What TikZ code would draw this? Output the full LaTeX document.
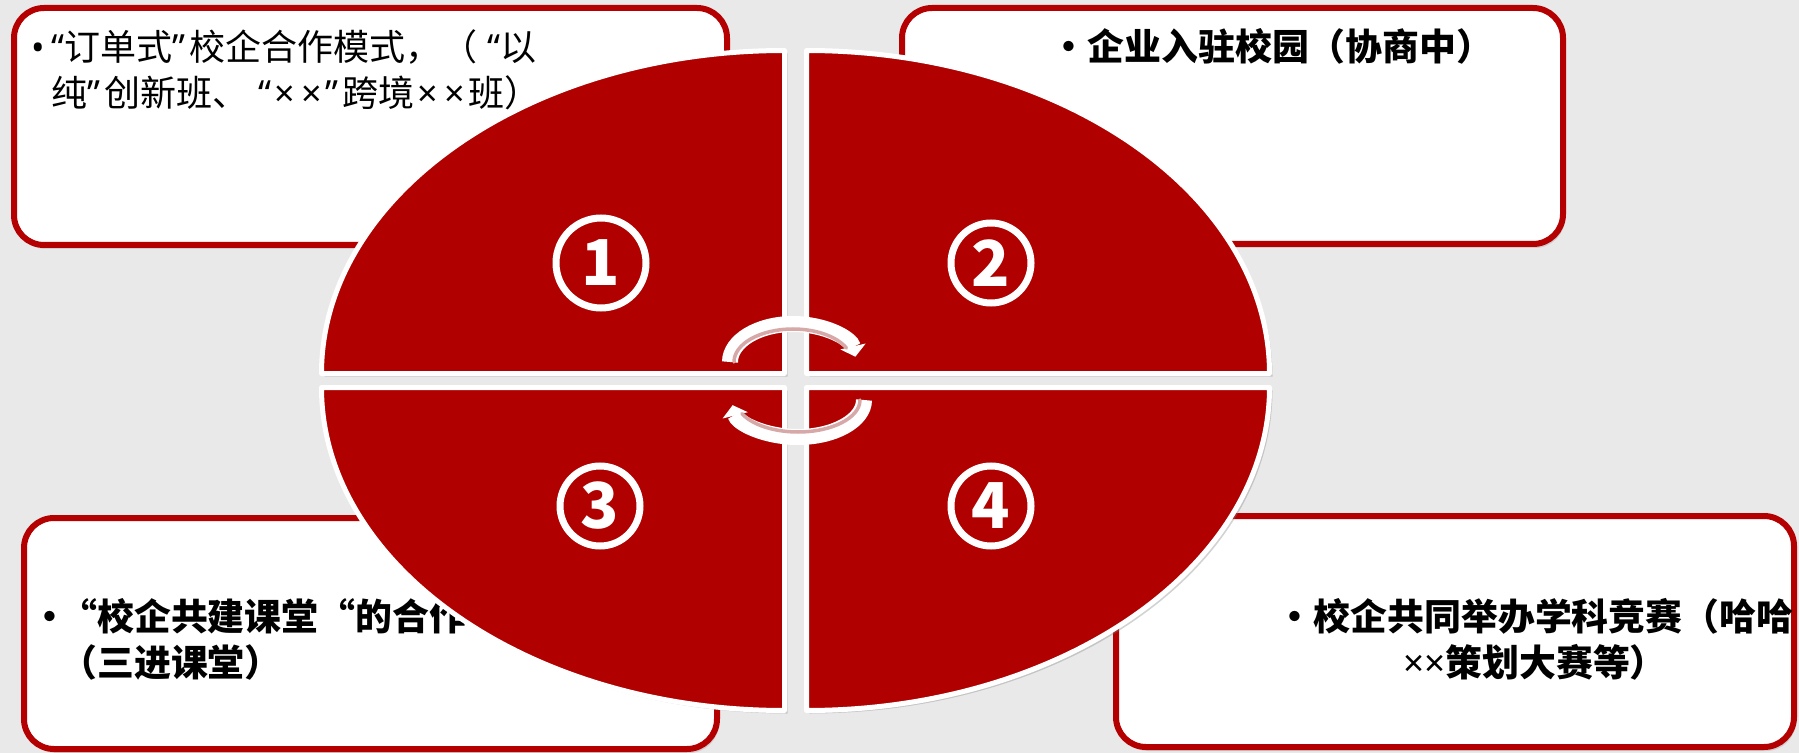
\documentclass[tikz,border=0pt]{standalone}
\usepackage{fontspec}
\usetikzlibrary{arrows.meta,shadows}
\newfontfamily\cjk{Noto Sans CJK SC}
\newfontfamily\latin{Noto Sans}
\newdimen\px \px=0.02cm
\newcommand\openq{{\latin “}}
\newcommand\closeq{{\latin ”}\hspace{4\px}}
\newcommand\tms{{\latin ×}}
\newcommand\widetms{\makebox[27\px][c]{\latin ×}}
\definecolor{quadred}{RGB}{176,0,0}
\definecolor{boxred}{RGB}{180,0,0}
\definecolor{bggray}{RGB}{233,233,233}
\definecolor{arrowpink}{RGB}{214,168,168}

\begin{document}
\begin{tikzpicture}[x=0.02cm,y=0.02cm,
  infobox/.style={draw=boxred,line width=6\px,fill=white,rounded corners=30\px,inner sep=0pt,
    drop shadow={opacity=0.25,shadow xshift=2\px,shadow yshift=-4\px}},
  boxtext/.style={inner sep=0pt,font=\cjk\fontsize{20.5pt}{26pt}\selectfont},
  boldtext/.style={inner sep=0pt,font=\cjk\bfseries\fontsize{21pt}{26pt}\selectfont},
  quarter/.style={fill=quadred,draw=white,line width=5\px,line join=round,
    drop shadow={opacity=0.35,shadow xshift=3\px,shadow yshift=-3\px}},
  numring/.style={circle,draw=white,line width=7\px,text=white,minimum size=80\px,inner sep=0pt,
    font=\cjk\bfseries\fontsize{36pt}{36pt}\selectfont},
  cyclearrow/.style={white,line width=16\px,-{Triangle[length=6pt,width=14.5pt]}},
  cycleline/.style={arrowpink,line width=3.5\px,line cap=round}]
\useasboundingbox (0,0) rectangle (1799,-753);
% background
\fill[bggray] (0,0) rectangle (1799,-753);

% text boxes
\node[infobox,minimum width=713\px,minimum height=237\px] (box1) at (370.5,-126.5) {};
\node[infobox,minimum width=661\px,minimum height=236\px] (box2) at (1232.5,-126) {};
\node[infobox,minimum width=693\px,minimum height=231\px] (box3) at (370.5,-633.5) {};
\node[infobox,minimum width=678\px,minimum height=231\px] (box4) at (1455,-631.5) {};

\node[boxtext,anchor=north west] (t1) at (24,-28) {\begin{tabular}{@{}l@{}l@{}}\makebox[27\px][c]{\latin •}&\openq 订单式\closeq 校企合作模式，（\hspace{10\px}\openq 以\\ &纯\closeq 创新班、\hspace{10\px}\openq\widetms\widetms\closeq 跨境\widetms\widetms 班）\end{tabular}};
\node[boldtext,anchor=base] (t2) at (1272,-61) {•企业入驻校园（协商中）};
\node[boldtext,anchor=north west] (t3) at (31,-598) {\begin{tabular}{@{}l@{}l@{}}\makebox[29\px][l]{•}&“校企共建课堂“的合作\\ &（三进课堂）\end{tabular}};
\node[boldtext,anchor=north] (t4) at (1535,-598) {\begin{tabular}{@{}c@{}}•校企共同举办学科竞赛（哈哈\\\tms\tms 策划大赛等）\end{tabular}};

% the four quarters
\foreach \cx/\cy/\sa in {784.5/373.5/90, 806.5/373.5/0, 784.5/387.5/180, 806.5/387.5/270}
  \draw[quarter] (\cx,-\cy) -- ++(\sa:463 and 323) arc[start angle=\sa,delta angle=90,x radius=463,y radius=323] -- cycle;

\node[numring,minimum size=90\px] (n1) at (601,-263) {1};
\node[numring] (n2) at (991,-263) {2};
\node[numring] (n3) at (600,-506) {3};
\node[numring] (n4) at (991,-506) {4};

% cycle arrows
\coordinate (topL) at (730,-362);
\coordinate (botR) at (864,-400);
\draw[cyclearrow] (topL) arc[start angle=180,end angle=8,x radius=63,y radius=38];
\draw[cycleline] ([shift={(4,0)}]topL) arc[start angle=180,end angle=25,x radius=59,y radius=33];
\draw[cyclearrow] (botR) arc[start angle=0,end angle=-172,x radius=66,y radius=37];
\draw[cycleline] ([shift={(-4,0)}]botR) arc[start angle=0,end angle=-155,x radius=62,y radius=32];
\end{tikzpicture}
\end{document}
